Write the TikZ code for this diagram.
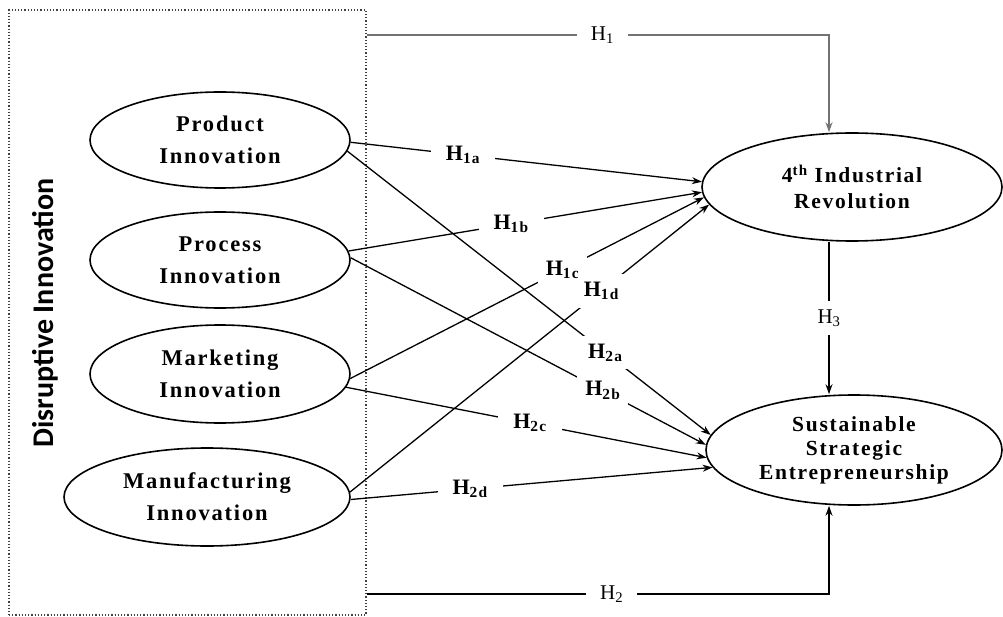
\documentclass[tikz,border=0pt]{standalone}
\usepackage{fontspec}
\setmainfont{Liberation Serif}[LetterSpace=8]
\newfontfamily\sidefont{Carlito}
\usetikzlibrary{shapes.geometric,arrows.meta}

\tikzset{
  construct/.style={ellipse,draw,line width=1.6pt,inner sep=0pt,align=center,
    font=\bfseries\fontsize{22.5}{32}\selectfont},
  conn/.style={line width=1.3pt,-{Stealth[length=10pt,width=7pt]}},
  hlab/.style={fill=white,inner xsep=15pt,inner ysep=2pt,
    font=\bfseries\fontsize{22}{24}\selectfont},
  hmain/.style={fill=white,inner xsep=14pt,inner ysep=3pt,
    font=\fontsize{21}{24}\selectfont},
}

\begin{document}
\begin{tikzpicture}[x=1pt,y=-1pt]
\useasboundingbox (0,0) rectangle (1003,617);

% --- Riquadro ---
\node[draw,dotted,line width=1.2pt,black!75,minimum width=357pt,minimum height=605pt,inner sep=0pt]
  (dib) at (187.5,312.5) {};
\node[rotate=90,font=\sidefont\bfseries\fontsize{30}{30}\selectfont] (dis) at (45,313)
  {Disruptive Innovation};

% --- Costrutti ---
\node[construct,minimum width=260pt,minimum height=96pt] (prod) at (220,140) {Product\\Innovation};
\node[construct,minimum width=260pt,minimum height=96pt] (proc) at (220,260) {Process\\Innovation};
\node[construct,minimum width=260pt,minimum height=98pt] (mark) at (220,374) {Marketing\\Innovation};
\node[construct,minimum width=286pt,minimum height=98pt] (manu) at (207,497) {Manufacturing\\Innovation};

\node[construct,minimum width=300pt,minimum height=108pt,font=\bfseries\fontsize{21.5}{26}\selectfont]
  (ind) at (852,187) {4\textsuperscript{th} Industrial\\Revolution};
\node[construct,minimum width=296pt,minimum height=110pt,font=\bfseries\fontsize{21.5}{24}\selectfont]
  (sus) at (854,450) {Sustainable\\Strategic\\Entrepreneurship};

% --- Ipotesi principali ---
\coordinate (h1c) at (829,35);
\coordinate (h2c) at (829,594);

\draw[conn,line width=1.8pt,black!55] (dib.east |- h1c) -- node[hmain,text=black,pos=0.51] {H\textsubscript{1}}
  (h1c) -- (h1c |- ind.north);
\draw[conn] (dib.east |- h2c) -- node[hmain,pos=0.53] {H\textsubscript{2}}
  (h2c) -- (h2c |- sus.south);
\draw[conn] (h1c |- ind.south) -- node[hmain,inner xsep=3pt,inner ysep=8pt] {H\textsubscript{3}}
  (h1c |- sus.north);

% --- Ipotesi H1 ---
\draw[conn] (prod.-1) -- node[hlab,pos=0.32] {H\textsubscript{1a}} (ind.178);
\draw[conn] (proc.4) -- node[hlab,pos=0.46] {H\textsubscript{1b}} (ind.182);
\draw[conn] (mark.-2) -- node[hlab,pos=0.60,inner xsep=8pt,inner ysep=6pt] {H\textsubscript{1c}} (ind.184);
\draw[conn] (manu.2) -- node[hlab,pos=0.70,inner xsep=6pt,inner ysep=8pt] {H\textsubscript{1d}} (ind.187);

% --- Ipotesi H2 ---
\draw[conn] (prod.-5) -- node[hlab,pos=0.71,inner xsep=6pt,inner ysep=8pt] {H\textsubscript{2a}} (sus.174);
\draw[conn] (proc.1) -- node[hlab,pos=0.71,inner xsep=8pt,inner ysep=6pt] {H\textsubscript{2b}} (sus.178);
\draw[conn] (mark.-6) -- node[hlab,pos=0.51] {H\textsubscript{2c}} (sus.183);
\draw[conn] (manu.-1) -- node[hlab,pos=0.33] {H\textsubscript{2d}} (sus.187);

\end{tikzpicture}
\end{document}
